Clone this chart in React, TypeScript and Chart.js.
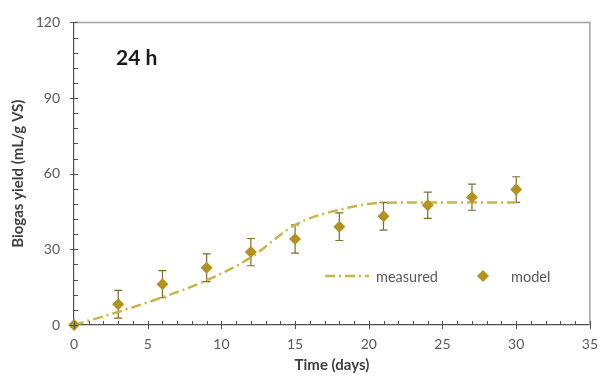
import { useEffect, useRef } from 'react';
import { Chart, registerables } from 'chart.js';

Chart.register(...registerables);

const days = [0, 3, 6, 9, 12, 15, 18, 21, 24, 27, 30];
const modelValues = [0, 8.2, 16.2, 22.7, 28.9, 34.1, 39.0, 43.1, 47.5, 50.7, 53.7];
const modelErrors = [0, 5.5, 5.4, 5.5, 5.4, 5.6, 5.5, 5.5, 5.2, 5.2, 5.1];
const measuredValues = [0, 5.2, 11.0, 17.7, 26.8, 39.7, 45.7, 48.5, 48.6, 48.6, 48.6];
const xTickValues = [0, 5, 10, 15, 20, 25, 30, 35];
const yTickValues = [0, 30, 60, 90, 120];
const seriesNames = ['measured', 'model'];
const panelLabel = '24 h';

const MODEL_COLOR = '#B3921F';
const LINE_COLOR = '#C6B747';
const ERR_COLOR = '#7E6C2C';
const FONT = 'Lato, "Open Sans", sans-serif';
const DASH = [10, 4, 2, 4];

const errorBarPlugin = {
  id: 'errorBars',
  beforeDatasetsDraw(chart: any) {
    const { ctx, scales } = chart;
    const xs = scales.x;
    const ys = scales.y;
    ctx.save();
    ctx.strokeStyle = ERR_COLOR;
    ctx.lineWidth = 1.2;
    days.forEach((d, i) => {
      const e = modelErrors[i];
      if (!e) return;
      const x = xs.getPixelForValue(d);
      const yTop = ys.getPixelForValue(modelValues[i] + e);
      const yBot = ys.getPixelForValue(modelValues[i] - e);
      ctx.beginPath();
      ctx.moveTo(x, yTop);
      ctx.lineTo(x, yBot);
      ctx.moveTo(x - 4, yTop);
      ctx.lineTo(x + 4, yTop);
      ctx.moveTo(x - 4, yBot);
      ctx.lineTo(x + 4, yBot);
      ctx.stroke();
    });
    ctx.restore();
  },
};

const framePlugin = {
  id: 'frameTicks',
  afterDraw(chart: any) {
    const { ctx, chartArea, scales } = chart;
    const xs = scales.x;
    const ys = scales.y;
    const { left, right, top, bottom } = chartArea;
    ctx.save();
    ctx.strokeStyle = '#A0A0A0';
    ctx.lineWidth = 1.5;
    ctx.beginPath();
    ctx.moveTo(left, top);
    ctx.lineTo(right, top);
    ctx.lineTo(right, bottom);
    ctx.stroke();
    ctx.strokeStyle = '#505050';
    ctx.lineWidth = 1;
    ctx.beginPath();
    for (let v = 0; v <= 35; v += 1) {
      const x = Math.round(xs.getPixelForValue(v)) + 0.5;
      if (v % 5 === 0) {
        ctx.moveTo(x, bottom - 4);
        ctx.lineTo(x, bottom + 4);
      } else {
        ctx.moveTo(x, bottom - 4);
        ctx.lineTo(x, bottom);
      }
    }
    for (let v = 0; v <= 120; v += 6) {
      const y = Math.round(ys.getPixelForValue(v)) + 0.5;
      if (v % 30 === 0) {
        ctx.moveTo(left - 4, y);
        ctx.lineTo(left + 4, y);
      } else {
        ctx.moveTo(left, y);
        ctx.lineTo(left + 4, y);
      }
    }
    ctx.stroke();

    ctx.fillStyle = '#1A1A1A';
    ctx.font = `bold 21px ${FONT}`;
    ctx.textBaseline = 'middle';
    ctx.textAlign = 'left';
    ctx.fillText(panelLabel, 116, 58);

    const ly = 276;
    ctx.strokeStyle = LINE_COLOR;
    ctx.lineWidth = 2.5;
    ctx.setLineDash(DASH);
    ctx.beginPath();
    ctx.moveTo(325, ly);
    ctx.lineTo(369, ly);
    ctx.stroke();
    ctx.setLineDash([]);
    ctx.fillStyle = '#595959';
    ctx.font = `14.5px ${FONT}`;
    ctx.fillText(seriesNames[0], 376, ly + 1);
    ctx.fillStyle = MODEL_COLOR;
    ctx.beginPath();
    ctx.moveTo(483, ly - 6);
    ctx.lineTo(489, ly);
    ctx.lineTo(483, ly + 6);
    ctx.lineTo(477, ly);
    ctx.closePath();
    ctx.fill();
    ctx.fillStyle = '#595959';
    ctx.fillText(seriesNames[1], 511, ly + 1);
    ctx.restore();
  },
};

export default function App() {
  const ref = useRef<HTMLCanvasElement | null>(null);
  useEffect(() => {
    if (!ref.current) return;
    const chart = new Chart(ref.current, {
      type: 'line',
      data: {
        datasets: [
          {
            label: seriesNames[1],
            data: days.map((d, i) => ({ x: d, y: modelValues[i] })),
            showLine: false,
            pointStyle: 'rectRot',
            pointRadius: 6,
            pointBackgroundColor: MODEL_COLOR,
            pointBorderColor: MODEL_COLOR,
            pointBorderWidth: 0,
            clip: false,
            order: 0,
          },
          {
            label: seriesNames[0],
            data: days.map((d, i) => ({ x: d, y: measuredValues[i] })),
            borderColor: LINE_COLOR,
            borderWidth: 2.5,
            borderDash: DASH,
            pointRadius: 0,
            cubicInterpolationMode: 'monotone',
            fill: false,
            order: 1,
          },
        ],
      },
      options: {
        animation: false,
        responsive: false,
        layout: { padding: { top: 16, right: 11, left: 0, bottom: 0 } },
        plugins: { legend: { display: false }, tooltip: { enabled: false } },
        scales: {
          x: {
            type: 'linear',
            min: 0,
            max: 35,
            afterBuildTicks: (s: any) => {
              s.ticks = xTickValues.map((v) => ({ value: v }));
            },
            afterFit: (s: any) => {
              s.height = 61;
            },
            grid: { display: false, drawTicks: false },
            border: { display: true, color: '#505050', width: 1.2 },
            ticks: { color: '#595959', font: { family: FONT, size: 14 }, padding: 11 },
            title: {
              display: true,
              text: 'Time (days)',
              color: '#404040',
              font: { family: FONT, size: 15, weight: 'bold' },
              padding: { top: 0, bottom: 12 },
            },
          },
          y: {
            type: 'linear',
            min: 0,
            max: 120,
            afterBuildTicks: (s: any) => {
              s.ticks = yTickValues.map((v) => ({ value: v }));
            },
            afterFit: (s: any) => {
              s.width = 74;
            },
            grid: { display: false, drawTicks: false },
            border: { display: true, color: '#505050', width: 1.2 },
            ticks: { color: '#595959', font: { family: FONT, size: 14 }, padding: 14 },
            title: {
              display: true,
              text: 'Biogas yield (mL/g VS)',
              color: '#404040',
              font: { family: FONT, size: 15, weight: 'bold' },
              padding: { top: 9, bottom: 0 },
            },
          },
        },
      } as any,
      plugins: [errorBarPlugin, framePlugin],
    });
    return () => chart.destroy();
  }, []);
  return (
    <div style={{ position: 'absolute', left: 0, top: 0, width: 609, height: 386, background: '#fff' }}>
      <canvas ref={ref} width={609} height={386} style={{ display: 'block' }} />
    </div>
  );
}
